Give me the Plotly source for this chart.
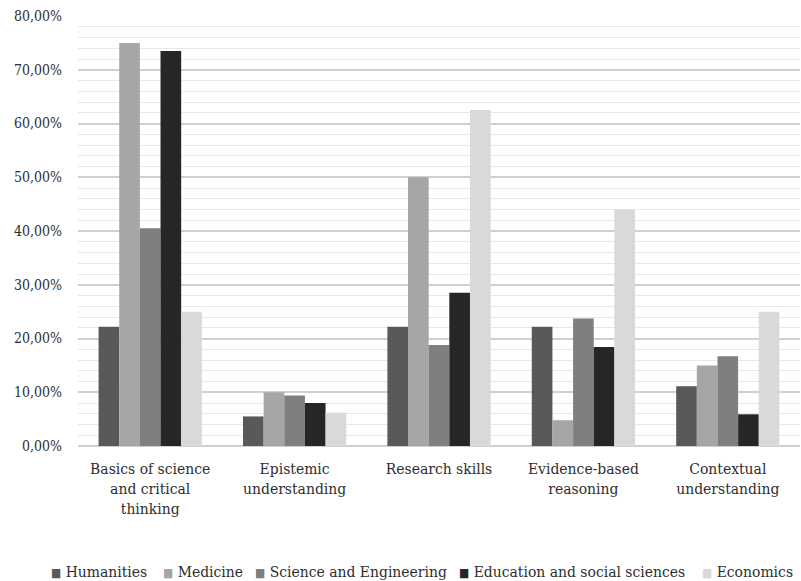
import plotly.graph_objects as go

categories = ["Basics of science<br>and critical<br>thinking", "Epistemic<br>understanding",
              "Research skills", "Evidence-based<br>reasoning", "Contextual<br>understanding"]
series_names = ["Humanities", "Medicine", "Science and Engineering",
                "Education and social sciences", "Economics"]
humanities = [0.222, 0.055, 0.222, 0.222, 0.111]
medicine = [0.750, 0.100, 0.500, 0.048, 0.150]
science_eng = [0.405, 0.094, 0.188, 0.237, 0.167]
education = [0.735, 0.080, 0.285, 0.184, 0.059]
economics = [0.250, 0.062, 0.625, 0.440, 0.250]
series_values = [humanities, medicine, science_eng, education, economics]
colors = ["#595959", "#a6a6a6", "#7f7f7f", "#262626", "#d9d9d9"]

font_family = "DejaVu Serif Condensed, DejaVu Serif, serif"
text_color = "#2e2e2e"

L, R, T, B = 78, 1, 16, 135
W, H = 801, 581
plot_w = W - L - R
plot_h = H - T - B

fig = go.Figure()
for name, vals, col in zip(series_names, series_values, colors):
    fig.add_trace(go.Bar(x=categories, y=vals, name=name, marker_color=col,
                         marker_line_width=0, showlegend=False))

# legend drawn as text entries (square + label) in one row
legend_px = [50, 162, 254, 458, 701]
for name, col, px in zip(series_names, colors, legend_px):
    fig.add_annotation(
        x=(px - L) / plot_w, xref="paper", xanchor="left",
        y=(T + plot_h - 572) / plot_h, yref="paper", yanchor="middle",
        text=f"<span style='color:{col};font-size:12px'>■</span> {name}",
        showarrow=False, borderpad=0,
        font=dict(size=15.5, color=text_color, family=font_family),
    )

fig.update_layout(
    width=W, height=H,
    margin=dict(l=L, r=R, t=T, b=B),
    paper_bgcolor="white", plot_bgcolor="white",
    separators=",.",
    barmode="group", bargap=0.285, bargroupgap=0,
    font=dict(family=font_family, size=14, color=text_color),
    showlegend=False,
    yaxis=dict(range=[0, 0.8], dtick=0.1, tickformat=".2%",
               showgrid=True, gridcolor="#d0d0d0", gridwidth=1.5,
               minor=dict(dtick=0.02, showgrid=True, gridcolor="#e8e8e8", gridwidth=1),
               zeroline=True, zerolinecolor="#d0d0d0", zerolinewidth=1.5,
               showline=False, ticks="", ticklabelstandoff=15, automargin=False,
               tickfont=dict(size=14, color=text_color)),
    xaxis=dict(showline=False, ticks="", tickfont=dict(size=15.5, color=text_color),
               tickangle=0, ticklabelstandoff=11, automargin=False),
)

fig.write_html("out.html")
